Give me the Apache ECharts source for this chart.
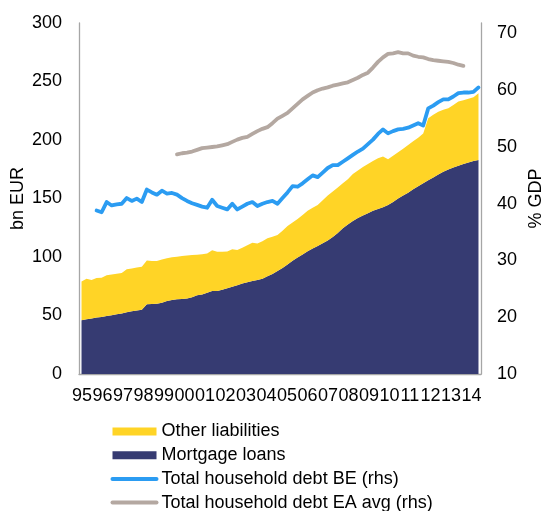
<!DOCTYPE html>
<html>
<head>
<meta charset="utf-8">
<script src="https://cdn.jsdelivr.net/npm/echarts@6/dist/echarts.min.js"></script>
<style>
  html, body { margin: 0; padding: 0; background: #fff; }
  #chart { width: 543px; height: 511px; }
</style>
</head>
<body>
<div id="chart"></div>
<script>
// Year tick labels (two-digit years), quarterly data 1995Q1 – 2014Q4
const years = ['95','96','97','98','99','00','01','02','03','04',
               '05','06','07','08','09','10','11','12','13','14'];

// Household mortgage loans, bn EUR (quarterly)
const mortgageLoans = [
  46.0, 46.8, 47.5, 48.2, 48.8, 49.5, 50.2, 51.0, 51.8, 52.8,
  53.6, 54.3, 55.0, 59.6, 59.8, 60.0, 61.0, 62.3, 63.3, 63.8,
  64.1, 64.6, 65.5, 67.3, 68.0, 69.5, 71.0, 71.0, 72.0, 73.2,
  74.5, 75.8, 77.3, 78.5, 79.5, 80.3, 81.5, 83.5, 85.5, 88.0,
  90.7, 93.5, 96.7, 99.5, 102.2, 105.0, 107.3, 109.5, 111.7, 114.0,
  117.0, 120.5, 124.5, 127.8, 130.7, 133.3, 135.5, 137.5, 139.5, 141.0,
  142.6, 144.5, 147.0, 150.0, 152.5, 155.0, 158.0, 160.5, 163.0, 165.5,
  168.0, 170.5, 172.8, 174.8, 176.5, 178.0, 179.5, 180.8, 182.0, 183.0
];

// Other household liabilities, bn EUR (quarterly)
const otherLiabilities = [
  33.0, 34.7, 32.8, 33.8, 33.4, 34.9, 34.8, 34.6, 34.6, 36.7,
  36.5, 36.7, 36.6, 37.4, 36.7, 36.6, 36.8, 36.7, 36.5, 36.5,
  36.7, 36.7, 36.2, 34.7, 34.4, 33.5, 34.8, 33.4, 32.4, 31.4,
  32.2, 30.1, 30.7, 31.5, 32.6, 31.2, 32.0, 32.5, 31.8, 30.8,
  31.8, 33.0, 32.8, 33.0, 33.8, 34.5, 34.7, 35.0, 36.8, 38.5,
  39.0, 39.0, 38.5, 38.7, 40.3, 40.7, 41.5, 42.0, 42.5, 43.3,
  43.2, 39.0, 39.5, 39.5, 40.0, 40.8, 41.0, 41.5, 42.5, 53.0,
  53.5, 53.7, 53.0, 52.4, 53.5, 54.8, 54.5, 54.5, 54.5, 57.0
];

// Total household debt, Belgium, % of GDP (quarterly)
const debtBE = [
  null, null, null, 38.8, 38.5, 40.3, 39.7, 39.9, 40.0, 41.0,
  40.5, 40.9, 40.3, 42.5, 42.0, 41.6, 42.3, 41.8, 41.9, 41.6,
  41.0, 40.5, 40.1, 39.8, 39.5, 39.3, 40.7, 39.6, 39.3, 39.0,
  40.0, 39.0, 39.5, 40.0, 40.3, 39.6, 40.0, 40.3, 40.5, 40.0,
  41.0, 42.0, 43.1, 43.0, 43.6, 44.3, 45.0, 44.7, 45.5, 46.3,
  46.8, 46.8, 47.4, 48.0, 48.6, 49.2, 49.7, 50.5, 51.3, 52.3,
  53.1, 52.4, 52.8, 53.1, 53.2, 53.4, 53.8, 54.2, 53.8, 56.8,
  57.3, 57.9, 58.4, 58.4, 58.9, 59.5, 59.6, 59.6, 59.7, 60.5
];

// Total household debt, euro area average, % of GDP (quarterly)
const debtEA = [
  null, null, null, null, null, null, null, null, null, null,
  null, null, null, null, null, null, null, null, null, 48.7,
  48.9, 49.0, 49.2, 49.5, 49.8, 49.9, 50.0, 50.1, 50.3, 50.5,
  50.9, 51.3, 51.6, 51.8, 52.3, 52.8, 53.2, 53.5, 54.2, 55.0,
  55.5, 56.0, 56.8, 57.6, 58.4, 59.0, 59.6, 60.0, 60.3, 60.5,
  60.8, 61.0, 61.2, 61.4, 61.8, 62.2, 62.7, 63.1, 64.0, 65.0,
  65.8, 66.4, 66.5, 66.7, 66.5, 66.5, 66.1, 65.9, 65.8, 65.5,
  65.3, 65.2, 65.1, 65.0, 64.8, 64.5, 64.3, null, null, null
];

const quarters = years.flatMap(y => ['Q1', 'Q2', 'Q3', 'Q4'].map(q => y + q));

const FONT = 'Liberation Sans, Arial, sans-serif';
const AXIS_GREY = '#a6a6a6';
const C_OTHER = '#ffd426';
const C_MORTGAGE = '#363b72';
const C_BE = '#2b9cf2';
const C_EA = '#b4a8a1';

const chart = echarts.init(document.getElementById('chart'), null, { renderer: 'canvas' });

chart.setOption({
  animation: false,
  textStyle: { fontFamily: FONT },
  grid: [
    { left: 79, right: 62, top: 23, bottom: 137, outerBoundsMode: 'none', containLabel: false },
    // year labels are spread a bit wider than the plot itself
    { left: 71.7, right: 61.3, top: 23, bottom: 137, outerBoundsMode: 'none', containLabel: false }
  ],
  xAxis: [
    {
      type: 'category', gridIndex: 0, data: quarters, boundaryGap: true,
      axisLine: { show: true, lineStyle: { color: AXIS_GREY, width: 1.3 } },
      axisTick: { show: false }, axisLabel: { show: false }, splitLine: { show: false }
    },
    {
      type: 'category', gridIndex: 1, data: years, boundaryGap: true, position: 'bottom',
      axisLine: { show: false }, axisTick: { show: false }, splitLine: { show: false },
      axisLabel: { interval: 0, margin: 13, color: '#000', fontSize: 18, fontFamily: FONT }
    }
  ],
  yAxis: [
    {
      type: 'value', gridIndex: 0, min: 0, max: 300, interval: 50, position: 'left',
      name: 'bn EUR', nameLocation: 'middle', nameGap: 52, nameRotate: 90,
      nameMoveOverlap: false,
      nameTextStyle: { color: '#000', fontSize: 18, fontFamily: FONT },
      axisLine: { show: true, lineStyle: { color: AXIS_GREY, width: 1.3 } },
      axisTick: { show: false }, splitLine: { show: false },
      axisLabel: { margin: 17, color: '#000', fontSize: 18, fontFamily: FONT }
    },
    {
      type: 'value', gridIndex: 0, min: 10, max: 71.85, interval: 10, position: 'right',
      name: '% GDP', nameLocation: 'middle', nameGap: 46, nameRotate: 90,
      nameMoveOverlap: false,
      nameTextStyle: { color: '#000', fontSize: 18, fontFamily: FONT },
      axisLine: { show: true, lineStyle: { color: AXIS_GREY, width: 1.3 } },
      axisTick: { show: false }, splitLine: { show: false },
      axisLabel: { margin: 16, color: '#000', fontSize: 18, fontFamily: FONT, showMaxLabel: false }
    },
    { type: 'value', gridIndex: 1, show: false, min: 0, max: 300 }
  ],
  legend: {
    orient: 'vertical', left: 110.5, top: 422.5, padding: 0, height: 120,
    itemWidth: 44, itemHeight: 8, itemGap: 5.7,
    textStyle: { color: '#000', fontSize: 18, fontFamily: FONT, padding: [0, 0, 0, 0] },
    lineStyle: { width: 4, cap: 'round' },
    data: [
      { name: 'Other liabilities', icon: 'rect' },
      { name: 'Mortgage loans', icon: 'rect' },
      { name: 'Total household debt BE (rhs)', itemStyle: { opacity: 0 } },
      { name: 'Total household debt EA avg (rhs)', itemStyle: { opacity: 0 } }
    ]
  },
  series: [
    {
      name: 'Mortgage loans', type: 'line', xAxisIndex: 0, yAxisIndex: 0,
      stack: 'debt', data: mortgageLoans, symbol: 'none',
      color: C_MORTGAGE, lineStyle: { width: 0 },
      areaStyle: { color: C_MORTGAGE, opacity: 1 }
    },
    {
      name: 'Other liabilities', type: 'line', xAxisIndex: 0, yAxisIndex: 0,
      stack: 'debt', data: otherLiabilities, symbol: 'none',
      color: C_OTHER, lineStyle: { width: 0 },
      areaStyle: { color: C_OTHER, opacity: 1 }
    },
    {
      name: 'Total household debt BE (rhs)', type: 'line', xAxisIndex: 0, yAxisIndex: 1,
      data: debtBE, symbol: 'none', color: C_BE,
      lineStyle: { width: 3.8, color: C_BE, cap: 'round', join: 'round' }
    },
    {
      name: 'Total household debt EA avg (rhs)', type: 'line', xAxisIndex: 0, yAxisIndex: 1,
      data: debtEA, symbol: 'none', color: C_EA,
      lineStyle: { width: 3.8, color: C_EA, cap: 'round', join: 'round' }
    }
  ]
});
</script>
</body>
</html>
